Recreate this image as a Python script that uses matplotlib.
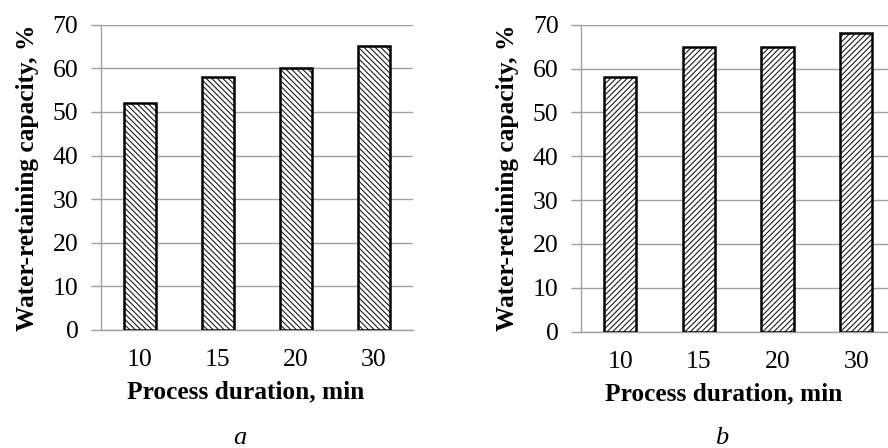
import numpy as np
import matplotlib.pyplot as plt

plt.rcParams['font.family'] = ['Liberation Serif', 'DejaVu Serif']
plt.rcParams['hatch.linewidth'] = 0.7

durations = ['10', '15', '20', '30']
capacity_a = [52, 58, 60, 65]
capacity_b = [58, 65, 65, 68]
yticks = [0, 10, 20, 30, 40, 50, 60, 70]

grid_color = '#a0a0a0'


def draw_panel(ax, values, hatch, xlabel_x):
    x = np.arange(len(durations))
    ax.bar(x, values, width=0.41, color='white', edgecolor='black',
           linewidth=1.8, hatch=hatch, zorder=3)
    ax.set_xlim(-0.5, len(durations) - 0.5)
    ax.set_ylim(0, 70)
    ax.set_yticks(yticks)
    ax.set_xticks(x, durations)
    ax.grid(axis='y', color=grid_color, linewidth=1.0, zorder=0)
    for side in ['top', 'right']:
        ax.spines[side].set_visible(False)
    for side in ['left', 'bottom']:
        ax.spines[side].set_color(grid_color)
        ax.spines[side].set_linewidth(1.0)
    ax.tick_params(axis='x', length=0, pad=14, labelsize=18.5)
    ax.tick_params(axis='y', length=7, width=1.0, color=grid_color,
                   pad=9, labelsize=18.5)
    ax.set_xlabel('Process duration, min', fontsize=18.3, fontweight='bold')
    ax.xaxis.set_label_coords(xlabel_x, -0.165)
    ax.set_ylabel('Water-retaining capacity, %', fontsize=18.3,
                  fontweight='bold', labelpad=10)


fig = plt.figure(figsize=(8.88, 4.48), dpi=100)
ax1 = fig.add_axes([0.1134, 0.2634, 0.3517, 0.6815])
ax2 = fig.add_axes([0.654, 0.2596, 0.3547, 0.6853])
draw_panel(ax1, capacity_a, '\\\\\\\\\\\\', 0.465)
draw_panel(ax2, capacity_b, '//////', 0.453)

fig.text(0.27, 0.022, 'a', fontsize=19, style='italic', ha='center', va='center')
fig.text(0.813, 0.022, 'b', fontsize=19, style='italic', ha='center', va='center')

fig.savefig('out.png', dpi=100)
